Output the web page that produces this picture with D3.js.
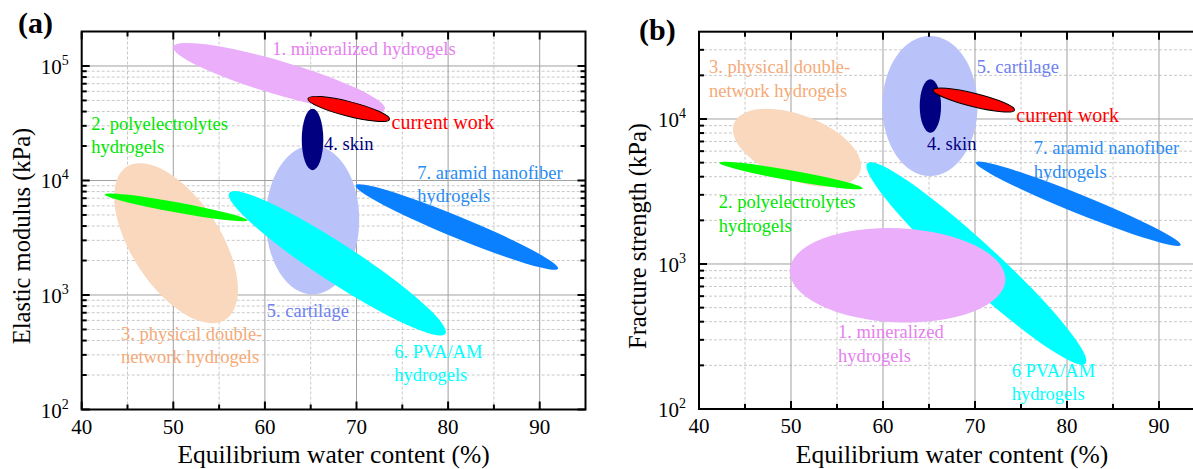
<!DOCTYPE html>
<html><head><meta charset="utf-8">
<script src="https://cdn.jsdelivr.net/npm/d3@7"></script>
<style>
body{margin:0;background:#fff}
svg{display:block}
</style>
</head><body>
<svg id="chart" width="1193" height="469"></svg>
<script>
// ---------- data ----------
const categories = ["1. mineralized hydrogels","2. polyelectrolytes hydrogels","3. physical double-network hydrogels","4. skin","5. cartilage","6. PVA/AM hydrogels","7. aramid nanofiber hydrogels","current work"];
const drawOrder = [2,1,4,3,5,0,6,7];
const fillColors = ["#eaaefa","#00ff00","#f9d8bd","#000080","#bac2fa","#00ffff","#0a80ff","#ff0000"];
const textColors = ["#e680f0","#00e600","#f5aa78","#000080","#6e80f0","#00ffff","#2a8cf2","#ff0000"];

// panel (a): elastic modulus vs water content — ellipse major-axis tips and minor/major ratio
const waterA1   = [50.0, 42.5, 44.9, 65.2, 65.2, 56.1, 69.9, 64.7];
const modulusA1 = [1.47e5, 7570, 13150, 42400, 20300, 7780, 9080, 51900];
const waterA2   = [73.1, 58.1, 55.7, 65.2, 65.2, 79.7, 92.0, 73.6];
const modulusA2 = [4.2e4, 4490, 612, 12300, 1014, 459, 1698, 34200];
const ratioA    = [0.152, 0.07, 0.488, 0.35, 0.627, 0.15, 0.097, 0.174];

// panel (b): fracture strength vs water content
const waterB1    = [49.86, 42.2, 43.8, 65.15, 65.1, 58.3, 70.1, 65.45];
const strengthB1 = [904, 5000, 9310, 18800, 37400, 4945, 5020, 15850];
const waterB2    = [73.3, 57.8, 57.5, 65.15, 65.1, 82.0, 92.35, 74.3];
const strengthB2 = [773, 3325, 4315, 8050, 4045, 206, 1352, 11530];
const ratioB     = [0.436, 0.07, 0.484, 0.4, 0.68, 0.14, 0.085, 0.16];

// labels (text lines) and anchors in data units
const labelLinesA = [["1. mineralized hydrogels"],["2. polyelectrolytes","hydrogels"],["3. physical double-","network hydrogels"],["4. skin"],["5. cartilage"],["6. PVA/AM","hydrogels"],["7. aramid nanofiber","hydrogels"],["current work"]];
const labelWaterA = [60.8, 41.04, 44.29, 66.46, 60.2, 74.13, 76.63, 73.83];
const labelModA   = [1.24e5, 27800, 407, 18600, 643, 284, 10400, 28400];
const labelLinesB = [["1. mineralized","hydrogels"],["2. polyelectrolytes","hydrogels"],["3. physical double-","network hydrogels"],["4. skin"],["5. cartilage"],["6 PVA/AM","hydrogels"],["7. aramid nanofiber","hydrogels"],["current work"]];
const labelWaterB = [55.1, 42.14, 41.08, 64.79, 70.2, 73.99, 76.38, 74.49];
const labelStrB   = [308, 2420, 20800, 6110, 20800, 167, 5710, 9490];

const xTickValues = [40, 50, 60, 70, 80, 90];
const xMinorValues = [45, 55, 65, 75, 85, 95];

// ---------- drawing ----------
const FONT = "Liberation Serif, Times New Roman, Times, Tinos, DejaVu Serif, serif";
const svg = d3.select("#chart").attr("font-family", FONT);

function txt(sel) { return sel.attr("font-family", FONT); }

function drawPanel(p) {
  const g = svg.append("g");
  const x = d3.scaleLinear().domain([40, 95]).range([p.left, p.right]);
  const y = d3.scaleLog().domain([100, p.yMax]).range([p.bottom, p.top]);
  const decades = d3.range(2, Math.floor(Math.log10(p.yMax)) + 1).map(e => Math.pow(10, e));
  const minors = [];
  for (let e = 2; e <= Math.log10(p.yMax); e++) for (let k = 2; k <= 9; k++) { const v = k * Math.pow(10, e); if (v < p.yMax * 0.999) minors.push(v); }

  // grid
  g.selectAll(".gxm").data(xMinorValues.filter(v => v < 95)).enter().append("line")
    .attr("x1", d => x(d)).attr("x2", d => x(d)).attr("y1", p.top).attr("y2", p.bottom)
    .attr("stroke", "#c8c8c8").attr("stroke-dasharray", "3,2");
  g.selectAll(".gym").data(minors).enter().append("line")
    .attr("x1", p.left).attr("x2", p.right).attr("y1", d => y(d)).attr("y2", d => y(d))
    .attr("stroke", "#c8c8c8").attr("stroke-dasharray", "3,2");
  g.selectAll(".gx").data(xTickValues.slice(1)).enter().append("line")
    .attr("x1", d => x(d)).attr("x2", d => x(d)).attr("y1", p.top).attr("y2", p.bottom)
    .attr("stroke", "#a0a0a0");
  g.selectAll(".gy").data(decades.slice(1)).enter().append("line")
    .attr("x1", p.left).attr("x2", p.right).attr("y1", d => y(d)).attr("y2", d => y(d))
    .attr("stroke", "#a0a0a0");

  // ellipses
  drawOrder.forEach(i => {
    const x1 = x(p.w1[i]), y1 = y(p.v1[i]), x2 = x(p.w2[i]), y2 = y(p.v2[i]);
    const cx = (x1 + x2) / 2, cy = (y1 + y2) / 2;
    const a = Math.hypot(x2 - x1, y2 - y1) / 2;
    const ang = Math.atan2(y2 - y1, x2 - x1) * 180 / Math.PI;
    g.append("ellipse").attr("cx", cx).attr("cy", cy).attr("rx", a).attr("ry", a * p.ratio[i])
      .attr("transform", `rotate(${ang},${cx},${cy})`)
      .attr("fill", fillColors[i])
      .attr("stroke", i === 7 ? "#000" : "none").attr("stroke-width", i === 7 ? 1 : 0);
  });

  // labels
  categories.forEach((c, i) => {
    const t = txt(g.append("text")).attr("x", x(p.lw[i])).attr("y", y(p.lv[i]))
      .attr("fill", textColors[i]).attr("font-size", i === 7 ? 20 : 18.5);
    p.lines[i].forEach((ln, j) => {
      t.append("tspan").attr("x", x(p.lw[i])).attr("dy", j === 0 ? 0 : "1.28em").text(ln);
    });
  });

  // frame
  g.append("rect").attr("x", p.left).attr("y", p.top).attr("width", p.right - p.left).attr("height", p.bottom - p.top)
    .attr("fill", "none").attr("stroke", "#000").attr("stroke-width", 2);

  // ticks (inward, all four sides)
  const tk = (data, len, horiz) => {
    data.forEach(d => {
      if (horiz) {
        g.append("line").attr("x1", x(d)).attr("x2", x(d)).attr("y1", p.bottom).attr("y2", p.bottom - len).attr("stroke", "#000").attr("stroke-width", 2);
        g.append("line").attr("x1", x(d)).attr("x2", x(d)).attr("y1", p.top).attr("y2", p.top + len).attr("stroke", "#000").attr("stroke-width", 2);
      } else {
        g.append("line").attr("y1", y(d)).attr("y2", y(d)).attr("x1", p.left).attr("x2", p.left + len).attr("stroke", "#000").attr("stroke-width", 2);
        g.append("line").attr("y1", y(d)).attr("y2", y(d)).attr("x1", p.right).attr("x2", p.right - len).attr("stroke", "#000").attr("stroke-width", 2);
      }
    });
  };
  tk(xTickValues, 8, true);
  tk(xMinorValues.filter(v => v < 95), 5, true);
  tk(decades, 8, false);
  tk(minors, 5, false);

  // tick labels
  txt(g.selectAll(".xl").data(xTickValues).enter().append("text"))
    .attr("x", d => x(d)).attr("y", p.bottom + 24).attr("text-anchor", "middle")
    .attr("font-size", 21).attr("fill", "#000").text(d => d);
  decades.forEach(d => {
    const t = txt(g.append("text")).attr("x", p.left - 13).attr("y", y(d) + 8).attr("text-anchor", "end")
      .attr("font-size", 21).attr("fill", "#000");
    t.append("tspan").text("10");
    t.append("tspan").attr("dy", -9).attr("font-size", 14).text(Math.round(Math.log10(d)));
  });

  // axis titles
  txt(g.append("text")).attr("x", x(67.5)).attr("y", 463).attr("text-anchor", "middle")
    .attr("font-size", 25.5).text("Equilibrium water content (%)");
  txt(g.append("text")).attr("transform", `translate(${p.yTitleX},236) rotate(-90)`)
    .attr("text-anchor", "middle").attr("font-size", 24.5).text(p.yTitle);

  // panel letter
  txt(g.append("text")).attr("x", p.letterX).attr("y", p.letterY).attr("font-size", 30).attr("font-weight", "bold")
    .text(p.letter);
}

drawPanel({left: 81.7, right: 585.5, top: 31.5, bottom: 409.5, yMax: 2e5,
  w1: waterA1, v1: modulusA1, w2: waterA2, v2: modulusA2, ratio: ratioA,
  lines: labelLinesA, lw: labelWaterA, lv: labelModA,
  yTitle: "Elastic modulus (kPa)", yTitleX: 30, letter: "(a)", letterX: 18, letterY: 33});
drawPanel({left: 699, right: 1205, top: 31.7, bottom: 409, yMax: 4e4,
  w1: waterB1, v1: strengthB1, w2: waterB2, v2: strengthB2, ratio: ratioB,
  lines: labelLinesB, lw: labelWaterB, lv: labelStrB,
  yTitle: "Fracture strength (kPa)", yTitleX: 646, letter: "(b)", letterX: 639, letterY: 40});
</script>
</body></html>
